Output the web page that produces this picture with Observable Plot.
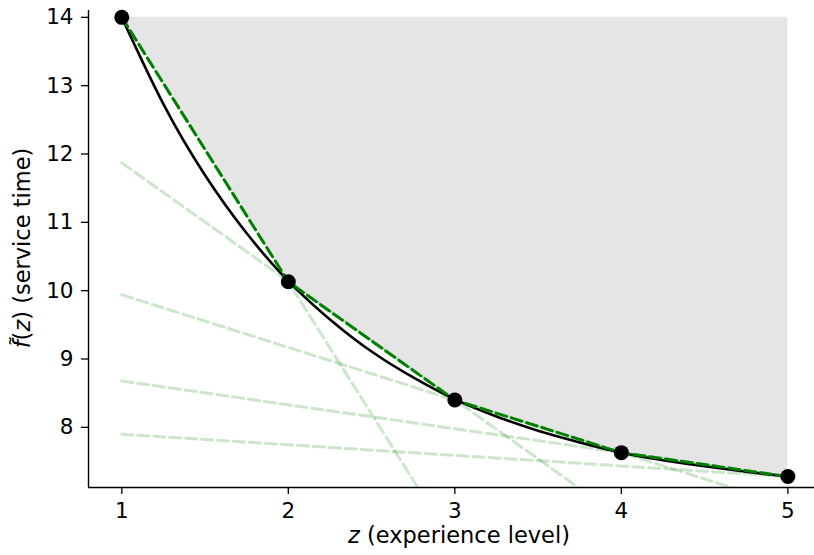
<!DOCTYPE html>
<html>
<head>
<meta charset="utf-8">
<script src="https://cdn.jsdelivr.net/npm/d3@7"></script>
<script src="https://cdn.jsdelivr.net/npm/@observablehq/plot@0.6"></script>
<style>
  html, body { margin: 0; padding: 0; background: #fff; overflow: hidden; }
  #chart svg { display: block; max-width: none; }
</style>
</head>
<body>
<div id="chart"></div>
<script>
// knots (observed points)
const zKnots = [1, 2, 3, 4, 5];
const fKnots = [14.0, 10.13, 8.40, 7.63, 7.28];

// smooth curve
const zCurve = [1, 1.25, 1.5, 1.75, 2, 2.25, 2.5, 2.75, 3, 3.25, 3.5, 3.75, 4, 4.25, 4.5, 4.75, 5];
const fCurve = [14.0, 12.73, 11.69, 10.84, 10.14, 9.58, 9.11, 8.73, 8.41, 8.16, 7.95, 7.78, 7.63, 7.52, 7.43, 7.35, 7.28];

// light supporting lines: value at z=1 and at z=5
const cutZ = [1, 5];
const cutStart = [14.0, 11.87, 9.94, 8.68, 7.90];
const cutEnd = [-1.48, 4.94, 6.86, 7.28, 7.28];

const xTicks = [1, 2, 3, 4, 5];
const yTicks = [8, 9, 10, 11, 12, 13, 14];
const xDomain = [0.8, 5.16];
const yDomain = [7.12, 14.1];
const fillTop = 14;

const knots = zKnots.map((z, i) => ({z, f: fKnots[i]}));
const curve = zCurve.map((z, i) => ({z, f: fCurve[i]}));
const cuts = [];
cutStart.forEach((s, i) => {
  cuts.push({id: i, z: cutZ[0], f: s});
  cuts.push({id: i, z: cutZ[1], f: cutEnd[i]});
});

const font = "DejaVu Sans, sans-serif";
const fs = 21.5;

const plot = Plot.plot({
  width: 814,
  height: 555,
  marginLeft: 88,
  marginRight: 0,
  marginTop: 10,
  marginBottom: 68,
  style: {fontFamily: font, fontSize: fs + "px", color: "#000", background: "#fff"},
  x: {domain: xDomain, label: null},
  y: {domain: yDomain, label: null},
  marks: [
    Plot.areaY(knots, {x: "z", y1: "f", y2: () => fillTop, fill: "#e5e5e5"}),
    Plot.line(cuts, {x: "z", y: "f", z: "id", stroke: "green", strokeOpacity: 0.2, strokeWidth: 3, strokeDasharray: "11,5", clip: true}),
    Plot.line(curve, {x: "z", y: "f", stroke: "black", strokeWidth: 2.6, curve: "natural"}),
    Plot.line(knots, {x: "z", y: "f", stroke: "green", strokeWidth: 3, strokeDasharray: "11,5"}),
    Plot.dot(knots, {x: "z", y: "f", r: 7.5, fill: "black"}),
    Plot.ruleX([xDomain[0]], {stroke: "black", strokeWidth: 1.4}),
    Plot.ruleY([yDomain[0]], {stroke: "black", strokeWidth: 1.4}),
    Plot.axisX({ticks: xTicks, tickSize: 7, tickPadding: 8, tickFormat: d => String(d), fontSize: fs, label: null, strokeWidth: 1.3}),
    Plot.axisY({ticks: yTicks, tickSize: 7, tickPadding: 8, tickFormat: d => String(d), fontSize: fs, label: null, strokeWidth: 1.3})
  ]
});

document.getElementById("chart").appendChild(plot);
const svg = d3.select(plot);

// x label
const xl = svg.append("text")
  .attr("x", 459).attr("y", 543)
  .attr("text-anchor", "middle")
  .attr("font-family", font).attr("font-size", 22.5).attr("fill", "#000");
xl.append("tspan").attr("font-style", "italic").text("z");
xl.append("tspan").text(" (experience level)");

// y label
const yl = svg.append("text")
  .attr("transform", "translate(30,248) rotate(-90)")
  .attr("text-anchor", "middle")
  .attr("font-family", font).attr("font-size", 22.5).attr("fill", "#000");
yl.append("tspan").attr("font-style", "italic").text("f\u0303");
yl.append("tspan").text("(");
yl.append("tspan").attr("font-style", "italic").text("z");
yl.append("tspan").text(") (service time)");
</script>
</body>
</html>
